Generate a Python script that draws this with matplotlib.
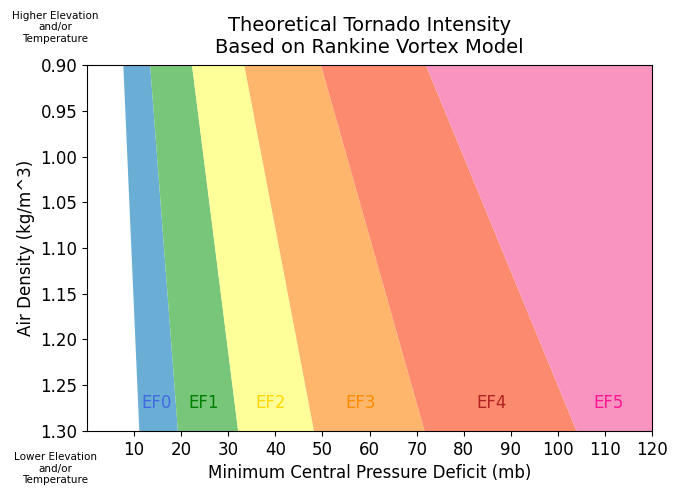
import numpy as np
import matplotlib
matplotlib.use("Agg")
import matplotlib.pyplot as plt

# air density range (kg/m^3) at the top and bottom of the plot
density = [0.90, 1.30]

# EF scale lower bounds (mb) at each density
ef_names = ['EF0', 'EF1', 'EF2', 'EF3', 'EF4', 'EF5']
deficit_at_090 = [7.6, 13.3, 22.2, 33.3, 49.6, 71.9]
deficit_at_130 = [11.0, 19.2, 32.0, 48.1, 71.6, 103.9]

fill_colors = ['#6aaed6', '#78c679', '#ffff99', '#fdb66c', '#fc8a6e', '#f993c0']
text_colors = ['royalblue', 'green', 'gold', 'darkorange', 'firebrick', 'deeppink']
label_x = [14.7, 24.8, 38.9, 58.0, 85.8, 110.8]
label_y = 1.27

x_max = 120

fig = plt.figure(figsize=(6.8, 4.97), dpi=100)
ax = fig.add_axes([0.128, 0.133, 0.831, 0.736])

for i, name in enumerate(ef_names):
    left = [deficit_at_090[i], deficit_at_130[i]]
    if i + 1 < len(ef_names):
        right = [deficit_at_090[i + 1], deficit_at_130[i + 1]]
    else:
        right = [x_max, x_max]
    ax.fill_betweenx(density, left, right, color=fill_colors[i], linewidth=0)
    ax.text(label_x[i], label_y, name, color=text_colors[i], fontsize=12,
            ha='center', va='center')

ax.set_xlim(0, x_max)
ax.set_ylim(1.30, 0.90)
ax.set_xticks(np.arange(10, 121, 10))
ax.set_yticks(np.arange(0.90, 1.301, 0.05))
ax.tick_params(labelsize=12)
ax.set_xlabel('Minimum Central Pressure Deficit (mb)', fontsize=12)
ax.set_ylabel('Air Density (kg/m^3)', fontsize=12)
ax.set_title('Theoretical Tornado Intensity\nBased on Rankine Vortex Model',
             fontsize=14, pad=9)

fig.text(0.081, 0.945, 'Higher Elevation\nand/or\nTemperature', fontsize=7.5,
         ha='center', va='center', linespacing=1.15)
fig.text(0.081, 0.057, 'Lower Elevation\nand/or\nTemperature', fontsize=7.5,
         ha='center', va='center', linespacing=1.15)

plt.savefig('out.png', dpi=100)
